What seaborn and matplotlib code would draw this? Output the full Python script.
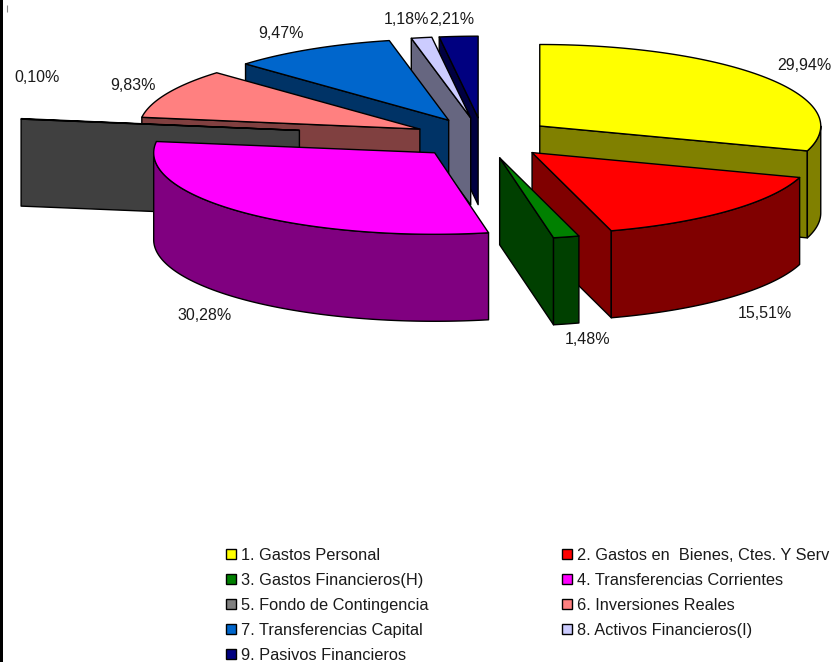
import numpy as np
import matplotlib
matplotlib.use("Agg")
import matplotlib.pyplot as plt
from matplotlib.patches import Patch
import seaborn as sns

categories = ["1. Gastos Personal", "2. Gastos en  Bienes, Ctes. Y Serv",
              "3. Gastos Financieros(H)", "4. Transferencias Corrientes",
              "5. Fondo de Contingencia", "6. Inversiones Reales",
              "7. Transferencias Capital", "8. Activos Financieros(I)",
              "9. Pasivos Financieros"]
values = [29.94, 15.51, 1.48, 30.28, 0.10, 9.83, 9.47, 1.18, 2.21]
value_labels = ["29,94%", "15,51%", "1,48%", "30,28%", "0,10%", "9,83%", "9,47%", "1,18%", "2,21%"]
colors = ["#FFFF00", "#FF0000", "#008000", "#FF00FF", "#808080", "#FF8080", "#0066CC", "#CCCCFF", "#000080"]
explode = [0.25, 0.25, 0.25, 0.25, 0.66, 0.25, 0.25, 0.25, 0.25]
label_xy = [(804, 65), (765, 314), (588, 340), (205, 315), (37, 77), (133, 85), (281, 33), (407, 19), (452, 19)]

# pie geometry (pixels)
CX, CY, A, B, DEPTH = 483, 138, 281, 81.5, 87
LW = 1.0

sns.set_theme(style="white")
plt.rcParams["font.family"] = ["Liberation Sans", "DejaVu Sans"]
palette = sns.color_palette(colors)

fig = plt.figure(figsize=(8.33, 6.62), dpi=100, facecolor="white")
ax = fig.add_axes([0, 0, 1, 1])
ax.set_xlim(0, 833)
ax.set_ylim(662, 0)
ax.axis("off")

edges = np.cumsum([0] + values) / sum(values) * 360.0


def rim(t, cx, cy):
    r = np.radians(t)
    return cx + A * np.sin(r), cy - B * np.cos(r)


def fill(xs, ys, color, z):
    ax.fill(xs, ys, facecolor=color, edgecolor="black", linewidth=LW, joinstyle="round", zorder=z)


def draw_slice(i, z):
    t1, t2 = edges[i], edges[i + 1]
    tm = (t1 + t2) / 2
    r = np.radians(tm)
    cx = CX + explode[i] * A * np.sin(r)
    cy = CY - explode[i] * B * np.cos(r)
    top = palette[i]
    side = tuple(np.array(top) * 0.5)
    # visible cut faces
    for t, visible in ((t1, np.sin(np.radians(t1)) < -1e-6), (t2, np.sin(np.radians(t2)) > 1e-6)):
        if visible:
            x, y = rim(t, cx, cy)
            fill([cx, x, x, cx], [cy, y, y + DEPTH, cy + DEPTH], side, z)
    # outer wall (front half only)
    lo, hi = max(t1, 90), min(t2, 270)
    if hi > lo:
        ts = np.linspace(lo, hi, max(3, int(hi - lo) + 2))
        x, y = rim(ts, cx, cy)
        fill(np.r_[x, x[::-1]], np.r_[y, y[::-1] + DEPTH], side, z + 0.1)
    # top
    ts = np.linspace(t1, t2, max(3, int(t2 - t1) + 2))
    x, y = rim(ts, cx, cy)
    fill(np.r_[cx, x], np.r_[cy, y], top, z + 0.2)


draw_order = [8, 7, 6, 5, 4, 3, 0, 1, 2]
for z, i in enumerate(draw_order):
    draw_slice(i, 2 + z)

for (x, y), s in zip(label_xy, value_labels):
    ax.text(x, y, s, ha="center", va="center", fontsize=11.5, color="#1a1a1a", zorder=20)

# page artefacts at the left edge
ax.axvspan(0, 3.2, color="black", lw=0, zorder=30)
ax.vlines(7, 5, 12, color="#888888", lw=0.8, zorder=30)

# legend: first column holds 1,3,5,7,9; second 2,4,6,8
order = [0, 2, 4, 6, 8, 1, 3, 5, 7]
handles = [Patch(facecolor=palette[i], edgecolor="black", linewidth=1.0) for i in order]
leg = ax.legend(handles, [categories[i] for i in order], ncol=2, frameon=False, fontsize=11.8,
                loc="upper left", bbox_to_anchor=(226, 548), bbox_transform=ax.transData,
                borderpad=0, borderaxespad=0, handlelength=0.61, handleheight=0.61,
                handletextpad=0.3, labelspacing=0.61, columnspacing=8.18, labelcolor="#1a1a1a")
leg.set_zorder(25)

fig.savefig("out.png", dpi=100, facecolor="white")
